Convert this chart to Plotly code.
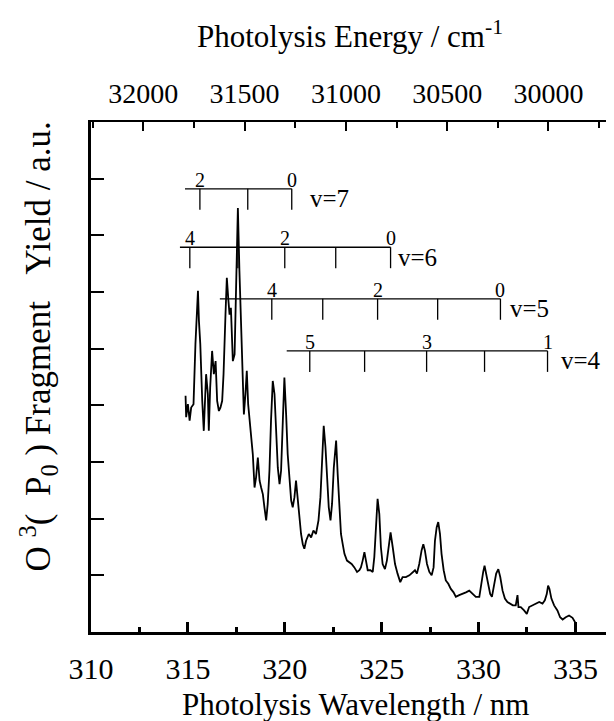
import plotly.graph_objects as go

# ---------------- data ----------------
wavelength_nm = [314.88, 314.91, 315.00, 315.09, 315.17, 315.29, 315.39, 315.46, 315.52, 315.57, 315.64, 315.74, 315.82, 315.94, 316.03, 316.08, 316.15, 316.25, 316.34, 316.43, 316.51, 316.60, 316.68, 316.77, 316.84, 316.94, 317.01, 317.08, 317.15, 317.22, 317.32, 317.41, 317.49, 317.58, 317.66, 317.75, 317.84, 317.89, 317.97, 318.04, 318.11, 318.18, 318.26, 318.35, 318.44, 318.52, 318.61, 318.70, 318.78, 318.87, 318.95, 319.04, 319.12, 319.21, 319.29, 319.38, 319.47, 319.55, 319.64, 319.73, 319.81, 319.90, 319.98, 320.07, 320.15, 320.24, 320.33, 320.41, 320.50, 320.58, 320.67, 320.76, 320.84, 320.93, 321.01, 321.10, 321.24, 321.36, 321.48, 321.61, 321.74, 321.84, 321.92, 322.01, 322.10, 322.18, 322.27, 322.36, 322.44, 322.53, 322.65, 322.73, 322.82, 322.90, 322.99, 323.08, 323.21, 323.33, 323.45, 323.59, 323.73, 323.85, 323.93, 324.02, 324.11, 324.19, 324.28, 324.42, 324.54, 324.62, 324.71, 324.79, 324.88, 324.96, 325.05, 325.17, 325.27, 325.38, 325.46, 325.57, 325.69, 325.82, 325.96, 326.08, 326.25, 326.43, 326.60, 326.72, 326.82, 326.94, 327.06, 327.15, 327.23, 327.34, 327.46, 327.58, 327.68, 327.75, 327.84, 327.92, 328.01, 328.09, 328.20, 328.31, 328.44, 328.57, 328.71, 328.83, 329.00, 329.18, 329.35, 329.52, 329.69, 329.86, 330.04, 330.15, 330.24, 330.31, 330.40, 330.50, 330.60, 330.69, 330.81, 330.91, 331.02, 331.12, 331.24, 331.36, 331.49, 331.63, 331.77, 331.92, 332.01, 332.06, 332.18, 332.35, 332.49, 332.61, 332.78, 332.95, 333.13, 333.30, 333.42, 333.52, 333.59, 333.66, 333.76, 333.90, 334.07, 334.21, 334.34, 334.50, 334.67, 334.85, 334.97, 335.02]

fragment_yield = [4.17, 3.79, 4.02, 3.73, 3.96, 4.02, 5.08, 5.60, 6.02, 5.49, 5.08, 4.08, 3.55, 4.55, 4.20, 3.55, 4.31, 4.96, 4.55, 4.78, 4.08, 3.90, 3.96, 4.08, 4.55, 5.60, 6.25, 5.90, 5.60, 5.72, 4.78, 4.90, 6.37, 7.48, 6.37, 5.19, 4.43, 3.84, 4.20, 4.61, 4.02, 3.73, 3.37, 3.14, 2.55, 2.73, 3.08, 2.67, 2.55, 2.43, 2.20, 1.97, 2.26, 2.85, 3.73, 4.43, 4.20, 3.43, 2.90, 2.61, 2.85, 3.73, 4.49, 3.84, 3.14, 2.73, 2.32, 2.20, 2.38, 2.67, 2.32, 1.97, 1.73, 1.55, 1.47, 1.61, 1.73, 1.67, 1.79, 1.73, 1.97, 2.38, 3.14, 3.64, 3.26, 2.73, 2.20, 1.97, 2.26, 2.90, 3.38, 2.79, 2.20, 1.73, 1.55, 1.38, 1.26, 1.23, 1.20, 1.14, 1.06, 1.09, 1.14, 1.26, 1.41, 1.26, 1.09, 1.09, 1.06, 1.32, 1.97, 2.35, 2.08, 1.50, 1.20, 1.11, 1.26, 1.61, 1.76, 1.50, 1.20, 1.03, 0.88, 0.97, 0.97, 1.00, 1.06, 1.09, 1.03, 1.20, 1.44, 1.55, 1.44, 1.20, 1.06, 1.00, 1.14, 1.61, 1.85, 1.94, 1.73, 1.38, 1.09, 0.91, 0.85, 0.76, 0.70, 0.62, 0.65, 0.67, 0.70, 0.73, 0.67, 0.62, 0.62, 0.91, 1.06, 1.17, 1.03, 0.85, 0.67, 0.62, 0.85, 1.03, 1.11, 0.97, 0.73, 0.59, 0.53, 0.50, 0.47, 0.47, 0.65, 0.44, 0.44, 0.38, 0.32, 0.44, 0.47, 0.50, 0.53, 0.50, 0.56, 0.67, 0.82, 0.76, 0.59, 0.47, 0.38, 0.26, 0.22, 0.26, 0.29, 0.25, 0.18, 0.02]

# vibrational progressions (band positions in nm) and their labels
prog_v7_nm = [315.62, 318.09, 320.36]
prog_v7_labels = ["2", "", "0"]
prog_v6_nm = [315.10, 317.58, 320.00, 322.63, 325.46]
prog_v6_labels = ["4", "", "2", "", "0"]
prog_v5_nm = [319.33, 321.96, 324.79, 327.89, 331.13]
prog_v5_labels = ["4", "", "2", "", "0"]
prog_v4_nm = [321.29, 324.12, 327.32, 330.31, 333.56]
prog_v4_labels = ["5", "", "3", "", "1"]
prog_names = ["v=7", "v=6", "v=5", "v=4"]
prog_line_start_nm = [314.85, 314.59, 316.65, 320.10]

x_ticks_nm = [310, 315, 320, 325, 330, 335]
top_ticks_cm = [32000, 31500, 31000, 30500, 30000]

assert len(wavelength_nm) == len(fragment_yield)

# ---------------- style / layout (not data) ----------------
FONT = "Liberation Serif, Times New Roman, Times, serif"
comb_level = [7.82, 6.79, 5.88, 4.96]
comb_tick_len = 0.37
name_shift = [18, 7, 10, 13]
NB = "\u00a0"

fig = go.Figure()
fig.add_trace(go.Scatter(x=wavelength_nm, y=fragment_yield, mode="lines",
                         line=dict(color="black", width=1.8), showlegend=False,
                         hoverinfo="skip"))

annotations = []
progs = [(prog_v7_nm, prog_v7_labels), (prog_v6_nm, prog_v6_labels),
         (prog_v5_nm, prog_v5_labels), (prog_v4_nm, prog_v4_labels)]
for i, (pos, labs) in enumerate(progs):
    lvl = comb_level[i]
    xs, ys = [prog_line_start_nm[i], pos[-1]], [lvl, lvl]
    for p in pos:
        xs += [None, p, p]
        ys += [None, lvl, lvl - comb_tick_len]
    fig.add_trace(go.Scatter(x=xs, y=ys, mode="lines",
                             line=dict(color="black", width=1.3),
                             showlegend=False, hoverinfo="skip"))
    for p, lab in zip(pos, labs):
        if lab:
            annotations.append(dict(x=p, y=lvl, xref="x", yref="y", text=lab,
                                    showarrow=False, xanchor="center", yanchor="bottom",
                                    yshift=-4, font=dict(family=FONT, size=20, color="black")))
    annotations.append(dict(x=pos[-1], y=lvl, xref="x", yref="y", text=prog_names[i],
                            showarrow=False, xanchor="left", yanchor="middle",
                            xshift=name_shift[i] - 2, yshift=-10,
                            font=dict(family=FONT, size=25, color="black")))

# axis titles
annotations.append(dict(x=0.5, y=-0.143, xref="paper", yref="paper",
                        text="Photolysis Wavelength / nm", showarrow=False,
                        xanchor="center", yanchor="middle",
                        font=dict(family=FONT, size=31, color="black")))
annotations.append(dict(x=0.49, y=1.172, xref="paper", yref="paper",
                        text="Photolysis Energy / cm<sup>-1</sup>", showarrow=False,
                        xanchor="center", yanchor="middle",
                        font=dict(family=FONT, size=31, color="black")))
left_title = ("O" + NB + "<sup>3</sup>(" + NB + NB + "P<sub>0</sub>" + NB + ")"
              + NB + "Fragment" + NB + NB + NB + "Yield" + NB + "/" + NB + "a.u.")
annotations.append(dict(x=-0.10, y=0.56, xref="paper", yref="paper",
                        text=left_title, textangle=-90, showarrow=False,
                        xanchor="center", yanchor="middle",
                        font=dict(family=FONT, size=35, color="black")))

fig.add_trace(go.Scatter(x=[32000], y=[0], xaxis="x2", mode="markers",
                         marker=dict(opacity=0), showlegend=False, hoverinfo="skip"))

fig.update_layout(
    width=614, height=721,
    margin=dict(l=83, r=2, t=114, b=97),
    paper_bgcolor="white", plot_bgcolor="white",
    annotations=annotations,
    xaxis=dict(range=[310, 337.3], tickvals=x_ticks_nm, ticktext=[str(v) for v in x_ticks_nm],
               ticks="inside", ticklen=10, ticklabelstandoff=8,
               tickwidth=3, tickcolor="black", showgrid=False, zeroline=False,
               showline=True, linecolor="black", linewidth=2.5,
               tickfont=dict(family=FONT, size=30, color="black"),
               minor=dict(dtick=2.5, tick0=310, ticks="inside", ticklen=5,
                          tickwidth=3, tickcolor="black", showgrid=False)),
    xaxis2=dict(range=[32258, 29647], overlaying="x", side="top", anchor="y",
                tickvals=top_ticks_cm, ticktext=[str(v) for v in top_ticks_cm],
                ticks="inside", ticklen=9, tickwidth=1.5, ticklabelstandoff=6,
                tickcolor="black", showgrid=False, zeroline=False,
                showline=True, linecolor="black", linewidth=2,
                tickfont=dict(family=FONT, size=28, color="black"),
                minor=dict(dtick=250, tick0=30000, ticks="inside", ticklen=6,
                           tickwidth=1.5, tickcolor="black", showgrid=False)),
    yaxis=dict(range=[0, 9], dtick=1, tick0=0, ticks="inside", ticklen=13,
               tickwidth=1.5, tickcolor="black", showticklabels=False,
               showgrid=False, zeroline=False, showline=True, linecolor="black",
               linewidth=2.5),
    shapes=[dict(type="line", xref="paper", yref="paper", x0=1, x1=1, y0=0.32, y1=0.49,
                 line=dict(color="#cccccc", width=1, dash="dot"))],
)

fig.write_html("out.html")
